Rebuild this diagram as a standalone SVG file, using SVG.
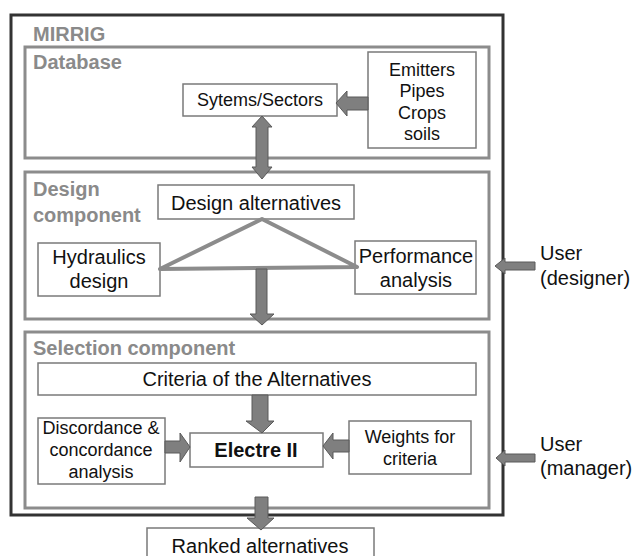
<svg xmlns="http://www.w3.org/2000/svg" width="636" height="556" viewBox="0 0 636 556">
<style>
text{font-family:"Liberation Sans",Arial,sans-serif;fill:#111}
.t20{font-size:20px}
.t18{font-size:18px}
.sec{font-size:20px;font-weight:bold;fill:#8a8a8a}
.panel{fill:#fff;stroke:#8c8c8c;stroke-width:3}
.box{fill:#fff;stroke:#7a7a7a;stroke-width:1.5}
.arr{fill:#7f7f7f;stroke:#5a5a5a;stroke-width:1}
.tri{fill:none;stroke:#8c8c8c;stroke-width:4;stroke-linejoin:round;stroke-linecap:round}
</style>
<rect width="636" height="556" fill="#fff"/>
<g id="mirrig">
<rect x="11" y="15" width="492" height="500" fill="#fff" stroke="#333" stroke-width="3"/>
<text class="sec" x="33" y="41">MIRRIG</text>
</g>
<g id="database">
<rect class="panel" x="25" y="47" width="464" height="111"/>
<text class="sec" x="33" y="69">Database</text>
</g>
<g id="design">
<rect class="panel" x="25" y="172" width="464" height="147"/>
<text class="sec" x="33" y="196">Design</text>
<text class="sec" x="33" y="222">component</text>
</g>
<g id="selection">
<rect class="panel" x="25" y="332" width="464" height="176"/>
<text class="sec" x="33" y="355">Selection component</text>
</g>
<g id="sytems">
<rect class="box" x="183" y="84" width="154" height="32"/>
<text class="t18" x="260" y="106" text-anchor="middle">Sytems/Sectors</text>
</g>
<g id="emitters">
<rect class="box" x="368" y="52" width="108" height="96"/>
<text class="t18" x="422" y="76" text-anchor="middle">Emitters</text>
<text class="t18" x="422" y="97" text-anchor="middle">Pipes</text>
<text class="t18" x="422" y="119" text-anchor="middle">Crops</text>
<text class="t18" x="422" y="140" text-anchor="middle">soils</text>
</g>
<g id="designalt">
<rect class="box" x="158" y="185" width="196" height="34"/>
<text class="t20" x="256" y="210" text-anchor="middle">Design alternatives</text>
</g>
<g id="hydraulics">
<rect class="box" x="38" y="243" width="122" height="53"/>
<text class="t20" x="99" y="264" text-anchor="middle">Hydraulics</text>
<text class="t20" x="99" y="288" text-anchor="middle">design</text>
</g>
<g id="performance">
<rect class="box" x="355" y="241" width="121" height="53"/>
<text class="t20" x="416" y="263" text-anchor="middle">Performance</text>
<text class="t20" x="416" y="287" text-anchor="middle">analysis</text>
</g>
<g id="criteria">
<rect class="box" x="38" y="363" width="438" height="32"/>
<text class="t20" x="257" y="386" text-anchor="middle">Criteria of the Alternatives</text>
</g>
<g id="electre">
<rect class="box" x="190" y="433" width="133" height="34"/>
<text class="t20" x="256" y="457" text-anchor="middle" font-weight="bold">Electre II</text>
</g>
<g id="discordance">
<rect class="box" x="38" y="418" width="127" height="66"/>
<text class="t18" x="101" y="434" text-anchor="middle">Discordance &amp;</text>
<text class="t18" x="101" y="456" text-anchor="middle">concordance</text>
<text class="t18" x="101" y="478" text-anchor="middle">analysis</text>
</g>
<g id="weights">
<rect class="box" x="349" y="421" width="122" height="53"/>
<text class="t18" x="410" y="443" text-anchor="middle">Weights for</text>
<text class="t18" x="410" y="465" text-anchor="middle">criteria</text>
</g>
<g id="ranked">
<rect class="box" x="147" y="528" width="227" height="40"/>
<text class="t20" x="260" y="553" text-anchor="middle">Ranked alternatives</text>
</g>
<g id="user-designer">
<text class="t20" x="540" y="260">User</text>
<text class="t20" x="540" y="285">(designer)</text>
</g>
<g id="user-manager">
<text class="t20" x="540" y="451">User</text>
<text class="t20" x="540" y="475">(manager)</text>
</g>
<g id="connectors">
<polyline class="tri" points="160,269 262,219 357,267 160,269"/>
<polygon class="arr" points="336,103 347,91 347,97 368,97 368,110 347,110 347,116"/>
<polygon class="arr" points="262,116 272,127 268,127 268,167 272,167 262,179 252,167 256,167 256,127 252,127"/>
<polygon class="arr" points="256,269 267,269 267,314 274,314 262,325 250,314 256,314"/>
<polygon class="arr" points="495,266 505,258 505,262 535,262 535,270 505,270 505,274"/>
<polygon class="arr" points="252,395 268,395 268,421 274,421 262,433 246,421 252,421"/>
<polygon class="arr" points="190,447 180,433 180,441 165,441 165,453 180,453 180,462"/>
<polygon class="arr" points="323,446 333,433 333,440 349,440 349,452 333,452 333,459"/>
<polygon class="arr" points="496,458 505,450 505,454 535,454 535,462 505,462 505,466"/>
<polygon class="arr" points="255,497 268,497 268,518 274,518 261,530 247,518 255,518"/>
</g>
</svg>
